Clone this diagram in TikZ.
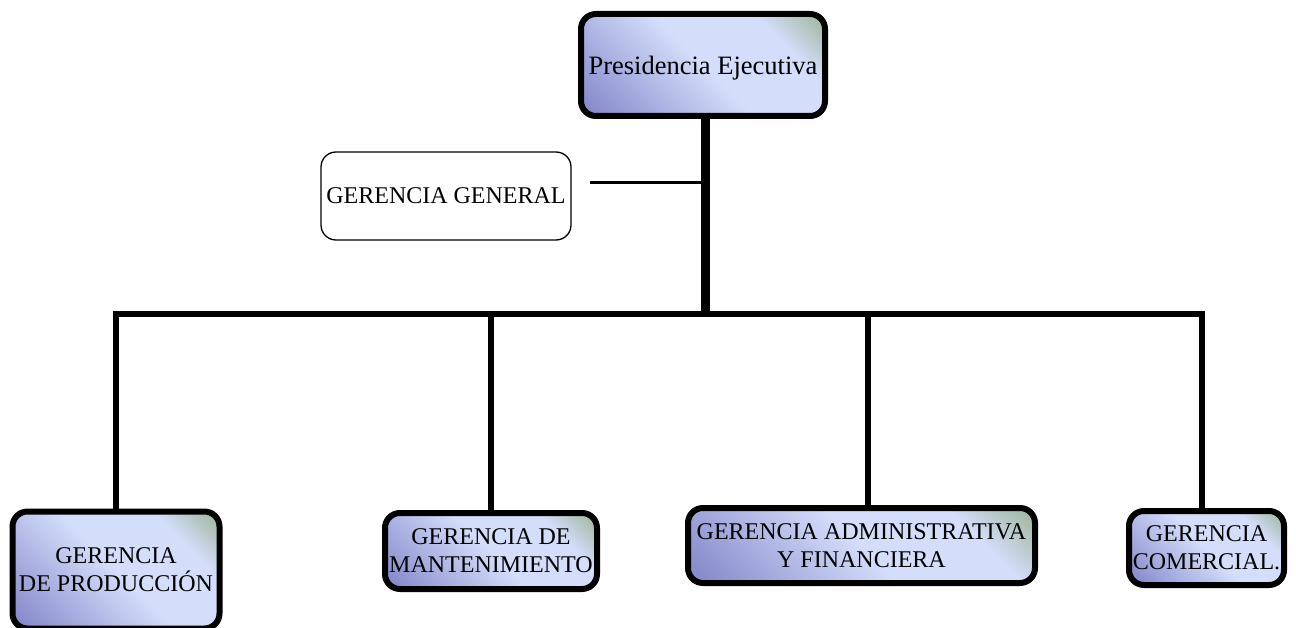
\documentclass[tikz,border=0pt]{standalone}
\usepackage{fontspec}
\setmainfont{Liberation Serif}
\usetikzlibrary{positioning}
\definecolor{cargodark}{RGB}{136,140,204}
\definecolor{cargolight}{RGB}{212,221,250}
\definecolor{cargogreen}{RGB}{160,184,160}
\pgfdeclarehorizontalshading{cargoshade}{100bp}{color(0bp)=(cargodark); color(18bp)=(cargodark); color(50bp)=(cargolight); color(71bp)=(cargolight); color(84bp)=(cargogreen); color(100bp)=(cargogreen)}

\begin{document}
\begin{tikzpicture}[x=1pt, y=-1pt,
  cargo/.style={rectangle, draw=black, line width=6pt, rounded corners=15pt, shading=cargoshade, shading angle=45, align=center, inner sep=0pt, font=\fontsize{24}{28}\selectfont},
  cargosimple/.style={rectangle, draw=black, line width=1.3pt, rounded corners=15pt, fill=white, align=center, inner sep=0pt, font=\fontsize{24}{28}\selectfont},
  linea/.style={line width=6pt, black}]
\useasboundingbox (0,0) rectangle (1296,628);

% Presidencia
\node[cargo, minimum width=244pt, minimum height=102pt, font=\fontsize{26.5}{30}\selectfont, text depth=0pt] (pres) at (703,65) {Presidencia Ejecutiva};

% Gerencia general
\node[cargosimple, minimum width=250pt, minimum height=88pt] (gg) at (446,196) {GERENCIA GENERAL};

% Gerencias
\node[cargo, minimum width=207pt, minimum height=117pt] (prod) at (116,570) {GERENCIA\\DE PRODUCCIÓN};
\node[cargo, minimum width=212pt, minimum height=76pt] (mant) at (491,551) {GERENCIA DE\\MANTENIMIENTO};
\node[cargo, minimum width=347pt, minimum height=75pt] (adm) at (861.5,545.5) {GERENCIA ADMINISTRATIVA\\Y FINANCIERA};
\node[cargo, minimum width=155pt, minimum height=74pt] (com) at (1206.5,548) {GERENCIA\\COMERCIAL.};

% Lineas
\coordinate (stemtop) at ([xshift=2.5pt]pres.south);
\coordinate (bus) at (stemtop |- 0,314);
\draw[line width=9pt] (stemtop) -- (bus);
\draw[linea] (bus) -| (prod.north);
\draw[linea] (bus) -| (mant.north);
\draw[linea] (bus) -| ([xshift=6.5pt]adm.north);
\draw[linea] (bus) -| ([xshift=-4.5pt]com.north);
\coordinate (ggtip) at (590,182.7);
\draw[line width=2.7pt] (ggtip) -- (ggtip -| stemtop);
\end{tikzpicture}
\end{document}
